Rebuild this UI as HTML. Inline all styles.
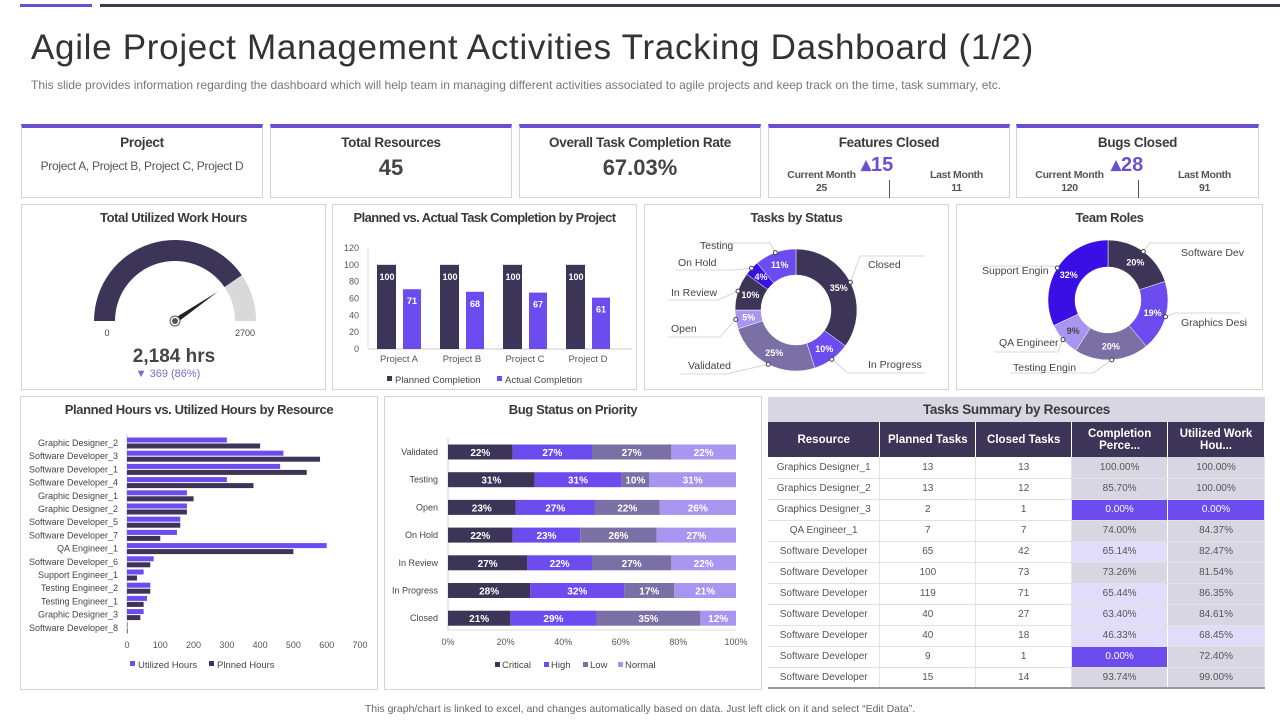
<!DOCTYPE html>
<html><head><meta charset="utf-8">
<style>
*{box-sizing:border-box;margin:0;padding:0}
body{width:1280px;height:720px;background:#fff;font-family:"Liberation Sans",sans-serif;color:#333;position:relative;overflow:hidden}
.abs{position:absolute}
.card{position:absolute;border:1px solid #d4d4d4;border-top:4px solid #6b4fd0;background:#fff;text-align:center}
.card h3{font-size:13.5px;font-weight:bold;color:#3a3a3a;margin-top:7px;letter-spacing:-0.3px}
.panel{position:absolute;border:1px solid #d4d4d4;background:#fff}
.ptitle{position:absolute;left:0;right:0;text-align:center;font-size:13px;font-weight:bold;color:#3a3a3a;top:5px;white-space:nowrap;letter-spacing:-0.4px}
table{border-collapse:collapse;font-size:10px;color:#555}
td{height:21px;text-align:center;border-bottom:1px solid #e2e2e2;border-right:1px solid #e2e2e2}
th{background:#3d3558;color:#fff;font-size:11.5px;height:35px;border-right:1px solid #fff}
</style></head><body>
<div class="abs" style="left:20px;top:4px;width:72px;height:3px;background:#6b4fd0"></div>
<div class="abs" style="left:100px;top:4px;width:1180px;height:3px;background:#3d3a4f"></div>
<div class="abs" style="left:31px;top:28px;font-size:35px;color:#333;white-space:nowrap;letter-spacing:0.7px">Agile Project Management Activities Tracking Dashboard (1/2)</div>
<div class="abs" style="left:31px;top:78px;font-size:12px;color:#777;white-space:nowrap">This slide provides information regarding the dashboard which will help team in managing different activities associated to agile projects and keep track on the time, task summary, etc.</div>

<div class="card" style="left:21px;top:124px;width:242px;height:74px"><h3>Project</h3><div style="font-size:12px;color:#555;margin-top:9px;letter-spacing:-0.3px">Project A, Project B, Project C, Project D</div></div>
<div class="card" style="left:270px;top:124px;width:242px;height:74px"><h3>Total Resources</h3><div style="font-size:22px;font-weight:bold;color:#444;margin-top:5px">45</div></div>
<div class="card" style="left:519px;top:124px;width:242px;height:74px"><h3>Overall Task Completion Rate</h3><div style="font-size:22px;font-weight:bold;color:#444;margin-top:5px">67.03%</div></div>
<div class="card" style="left:768px;top:124px;width:242px;height:74px"><h3>Features Closed</h3>
<div class="abs" style="left:92px;top:24px;font-size:20px;color:#6b4fd0;font-weight:bold">▴15</div>
<div class="abs" style="left:10px;top:41px;font-size:10.5px;font-weight:bold;color:#555;width:85px;line-height:13px;letter-spacing:-0.3px">Current Month<br>25</div>
<div class="abs" style="left:120px;top:52px;width:1px;height:18px;background:#555"></div>
<div class="abs" style="left:145px;top:41px;font-size:10.5px;font-weight:bold;color:#555;width:85px;line-height:13px;letter-spacing:-0.3px">Last Month<br>11</div></div>
<div class="card" style="left:1016px;top:124px;width:243px;height:74px"><h3>Bugs Closed</h3>
<div class="abs" style="left:94px;top:24px;font-size:20px;color:#6b4fd0;font-weight:bold">▴28</div>
<div class="abs" style="left:10px;top:41px;font-size:10.5px;font-weight:bold;color:#555;width:85px;line-height:13px;letter-spacing:-0.3px">Current Month<br>120</div>
<div class="abs" style="left:121px;top:52px;width:1px;height:18px;background:#555"></div>
<div class="abs" style="left:145px;top:41px;font-size:10.5px;font-weight:bold;color:#555;width:85px;line-height:13px;letter-spacing:-0.3px">Last Month<br>91</div></div>

<div class="panel" style="left:21px;top:204px;width:305px;height:186px"><div class="ptitle">Total Utilized Work Hours</div></div>
<div class="panel" style="left:332px;top:204px;width:305px;height:186px"><div class="ptitle" style="letter-spacing:-0.6px">Planned vs. Actual Task Completion by Project</div></div>
<div class="panel" style="left:644px;top:204px;width:305px;height:186px"><div class="ptitle">Tasks by Status</div></div>
<div class="panel" style="left:956px;top:204px;width:307px;height:186px"><div class="ptitle">Team Roles</div></div>
<div class="panel" style="left:20px;top:396px;width:358px;height:294px"><div class="ptitle">Planned Hours vs. Utilized Hours by Resource</div></div>
<div class="panel" style="left:384px;top:396px;width:378px;height:294px"><div class="ptitle">Bug Status on Priority</div></div>

<div class="abs" style="left:768px;top:397px;width:497px">
<div style="background:#d9d6e3;height:25px;text-align:center;font-size:13.5px;font-weight:bold;color:#3a3a3a;line-height:25px;letter-spacing:-0.3px">Tasks Summary by Resources</div>
<table id="tbl" style="width:497px;border-bottom:2px solid #999">
<thead><tr><th style="width:112px">Resource</th><th style="width:96px">Planned Tasks</th><th style="width:96px">Closed Tasks</th><th style="width:96px">Completion Perce...</th><th style="width:97px">Utilized Work Hou...</th></tr></thead>
<tbody id="tb"></tbody></table></div>

<div class="abs" style="left:0;width:1280px;top:703px;text-align:center;font-size:10.5px;color:#666">This graph/chart is linked to excel, and changes automatically based on data. Just left click on it and select “Edit Data”.</div>

<svg id="sv" width="1280" height="720" style="position:absolute;left:0;top:0" font-family="Liberation Sans, sans-serif"></svg>

<script>
// ---- data ----
const gaugeValue = 2184;
const gaugeMax = 2700;
const projects = ["Project A","Project B","Project C","Project D"];
const plannedCompletion = [100,100,100,100];
const actualCompletion = [71,68,67,61];
const colTicks = [0,20,40,60,80,100,120];
const statusLabels = ["Closed","In Progress","Validated","Open","In Review","On Hold","Testing"];
const statusValues = [35,10,25,5,10,4,11];
const roleLabels = ["Software Dev","Graphics Desi","Testing Engin","QA Engineer","Support Engin"];
const roleValues = [20,19,20,9,32];
const resources = ["Graphic Designer_2","Software Developer_3","Software Developer_1","Software Developer_4","Graphic Designer_1","Graphic Designer_2","Software Developer_5","Software Developer_7","QA Engineer_1","Software Developer_6","Support Engineer_1","Testing Engineer_2","Testing Engineer_1","Graphic Designer_3","Software Developer_8"];
const utilizedHours = [300,470,460,300,180,180,160,150,600,80,50,70,60,50,2];
const plannedHours = [400,580,540,380,200,180,160,100,500,70,30,70,50,40,2];
const hourTicks = [0,100,200,300,400,500,600,700];
const bugStatuses = ["Validated","Testing","Open","On Hold","In Review","In Progress","Closed"];
const bugCritical = [22,31,23,22,27,28,21];
const bugHigh = [27,31,27,23,22,32,29];
const bugLow = [27,10,22,26,27,17,35];
const bugNormal = [22,31,26,27,22,21,12];
const pctTicks = [0,20,40,60,80,100];
const tblResource = ["Graphics Designer_1","Graphics Designer_2","Graphics Designer_3","QA Engineer_1","Software Developer","Software Developer","Software Developer","Software Developer","Software Developer","Software Developer","Software Developer"];
const tblPlanned = [13,13,2,7,65,100,119,40,40,9,15];
const tblClosed = [13,12,1,7,42,73,71,27,18,1,14];
const tblCompletion = [100,85.70,0,74,65.14,73.26,65.44,63.40,46.33,0,93.74];
const tblUtilized = [100,100,0,84.37,82.47,81.54,86.35,84.61,68.45,72.40,99.00];

const DARK="#3d3558",PUR="#6c4bef",GRY="#7b70a6",LIT="#a795f0",BLU="#3a0fe6";
const NS="http://www.w3.org/2000/svg";
const sv=document.getElementById('sv');
function mk(tag,at,txt){const e=document.createElementNS(NS,tag);for(const k in at)e.setAttribute(k,at[k]);if(txt!==undefined)e.textContent=txt;sv.appendChild(e);return e;}
function tx(x,y,s,size,fill,anchor,bold){return mk('text',{x:x,y:y,'font-size':size,fill:fill,'text-anchor':anchor||'middle','font-weight':bold?'bold':'normal'},s);}

// ---- gauge ----
(function(){
 const cx=175,cy=321,R=81,r=60;
 function arcPath(a0,a1){const p=(a,rr)=>[cx+rr*Math.cos(a),cy-rr*Math.sin(a)];
  const [x0,y0]=p(a0,R),[x1,y1]=p(a1,R),[x2,y2]=p(a1,r),[x3,y3]=p(a0,r);
  return `M${x0},${y0} A${R},${R} 0 0 1 ${x1},${y1} L${x2},${y2} A${r},${r} 0 0 0 ${x3},${y3}Z`;}
 const av=Math.PI*(1-gaugeValue/gaugeMax);
 let e=mk('path',{d:arcPath(Math.PI,av),fill:DARK});
 
 
 e=mk('path',{d:arcPath(av,0),fill:"#d9d9d9"});
 
 
 const nx=cx+52*Math.cos(av),ny=cy-52*Math.sin(av);
 const px=-Math.sin(av)*2.5,py=-Math.cos(av)*2.5;
 e=mk('polygon',{points:`${cx+px},${cy+py} ${nx},${ny} ${cx-px},${cy-py}`,fill:"#222"});
 
 
 mk('circle',{cx:cx,cy:cy,r:5,fill:"#fff",stroke:"#555","stroke-width":1});
 mk('circle',{cx:cx,cy:cy,r:3,fill:"#555"});
 tx(107,336,"0",9,"#444");tx(245,336,String(gaugeMax),9,"#444");
 e=tx(174,362,gaugeValue.toLocaleString('en-US')+" hrs",19,"#444","middle",true);
 
 
 tx(168,377,"▼ "+(gaugeMax-gaugeValue-147)+" (86%)",11,"#7b68d6");
})();

// ---- column chart ----
(function(){
 const x0=368,y0=349,k=(349-248)/120,step=63,first=377;
 const Y=v=>y0-v*k;
 colTicks.forEach(t=>tx(359,Y(t)+3,String(t),9,"#555","end"));
 mk('line',{x1:x0,y1:y0,x2:632,y2:y0,stroke:"#ccc"});
 mk('line',{x1:x0,y1:248,x2:x0,y2:y0,stroke:"#ddd"});
 projects.forEach((p,i)=>{
  const bx=first+i*step;
  let e=mk('rect',{x:bx,y:Y(plannedCompletion[i]),width:19,height:plannedCompletion[i]*k,fill:DARK});
  
  
  e=mk('rect',{x:bx+26,y:Y(actualCompletion[i]),width:18,height:actualCompletion[i]*k,fill:PUR});
  
  
  tx(bx+10,Y(plannedCompletion[i])+15,String(plannedCompletion[i]),9,"#fff","middle",true);
  tx(bx+35,Y(actualCompletion[i])+15,String(actualCompletion[i]),9,"#fff","middle",true);
  tx(bx+22,362,p,9.5,"#555");
 });
 mk('rect',{x:387,y:376,width:5,height:5,fill:DARK});tx(395,383,"Planned Completion",9.5,"#444","start");
 mk('rect',{x:497,y:376,width:5,height:5,fill:PUR});tx(505,383,"Actual Completion",9.5,"#444","start");
})();

// ---- donuts ----
function donut(cx,cy,R,r,vals,cols,names,labelPos){
 const tot=vals.reduce((a,b)=>a+b,0);let a=-Math.PI/2;
 vals.forEach((v,i)=>{
  const a1=a+2*Math.PI*v/tot;const lg=(a1-a)>Math.PI?1:0;
  const P=(ang,rr)=>[cx+rr*Math.cos(ang),cy+rr*Math.sin(ang)];
  const [x0,y0]=P(a,R),[x1,y1]=P(a1,R),[x2,y2]=P(a1,r),[x3,y3]=P(a,r);
  const e=mk('path',{d:`M${x0},${y0}A${R},${R} 0 ${lg} 1 ${x1},${y1}L${x2},${y2}A${r},${r} 0 ${lg} 0 ${x3},${y3}Z`,fill:cols[i],stroke:"#fff","stroke-width":0.5});
  
  
  const am=(a+a1)/2,[lx,ly]=P(am,(R+r)/2);
  tx(lx,ly+3,v+"%",9,cols[i]===LIT&&vals.length===5?"#444":"#fff","middle",true);
  const [dx,dy]=P(am,R);const L=labelPos[i];
  mk('polyline',{points:`${dx},${dy} ${L[2]},${L[3]} ${L[4]},${L[3]}`,fill:"none",stroke:"#ccc","stroke-width":0.8});
  mk('circle',{cx:dx,cy:dy,r:2,fill:"#fff",stroke:"#444","stroke-width":1});
  tx(L[0],L[1],names[i],10.5,"#444","start");
  a=a1;
 });
}
donut(796,310,61,35,statusValues,[DARK,PUR,GRY,LIT,DARK,BLU,PUR],statusLabels,
 [[868,268,860,256,925],[868,368,848,373,925],[688,369,726,374,680],[671,332,720,337,668],[671,296,718,300,668],[678,266,734,270,676],[700,249,770,243,698]]);
donut(1108,300,60,33,roleValues,[DARK,PUR,GRY,LIT,BLU],roleLabels,
 [[1181,256,1150,243,1240],[1181,326,1175,313,1240],[1013,371,1093,373,1010],[999,346,1058,352,994],[982,274,1052,266,980]]);

// ---- horizontal bars ----
(function(){
 const x0=127,k=(360-127)/700,yF=443,step=13.2;
 const X=v=>x0+v*k;
 mk('line',{x1:x0,y1:434,x2:x0,y2:634,stroke:"#ccc"});
 hourTicks.forEach(t=>tx(X(t),648,String(t),9,"#555"));
 resources.forEach((n,i)=>{
  const cy=yF+i*step;
  tx(118,cy+3,n,9,"#444","end");
  let e=mk('rect',{x:x0,y:cy-5.5,width:utilizedHours[i]*k,height:5,fill:PUR});
  
  
  e=mk('rect',{x:x0,y:cy+0.5,width:plannedHours[i]*k,height:5,fill:DARK});
  
  
 });
 mk('rect',{x:130,y:661,width:5,height:5,fill:PUR});tx(138,668,"Utilized Hours",9.5,"#444","start");
 mk('rect',{x:209,y:661,width:5,height:5,fill:DARK});tx(217,668,"Plnned Hours",9.5,"#444","start");
})();

// ---- stacked bug chart ----
(function(){
 const x0=448,W=288,yF=452,step=27.7;
 const X=p=>x0+p*W/100;
 mk('line',{x1:x0,y1:438,x2:x0,y2:630,stroke:"#ccc"});
 mk('line',{x1:x0,y1:630,x2:736,y2:630,stroke:"#ddd"});
 pctTicks.forEach(t=>tx(X(t),645,t+"%",9,"#555"));
 const series=[bugCritical,bugHigh,bugLow,bugNormal],cols=[DARK,PUR,GRY,LIT],sn=["critical","high","low","normal"];
 bugStatuses.forEach((s,i)=>{
  const cy=yF+i*step;tx(438,cy+3,s,9,"#444","end");
  const tot=series.reduce((a,sr)=>a+sr[i],0);let acc=0;
  series.forEach((sr,j)=>{
   const p=sr[i]/tot*100;
   const e=mk('rect',{x:X(acc),y:cy-7.5,width:p*W/100,height:15,fill:cols[j]});
   
   
   tx(X(acc+p/2),cy+4,sr[i]+"%",10,"#fff","middle",true);
   acc+=p;
  });
 });
 const lg=[["Critical",495],["High",544],["Low",583],["Normal",618]];
 lg.forEach((l,j)=>{mk('rect',{x:l[1],y:662,width:5,height:5,fill:cols[j]});tx(l[1]+7,668,l[0],9.5,"#444","start");});
})();

// ---- table ----
(function(){
 const tb=document.getElementById('tb');
 const fmt=v=>v.toFixed(2)+"%";
 const bg=v=>v===0?PUR:(v<70?"#e0dcfa":"#d9d6e3");
 tblResource.forEach((n,i)=>{
  const tr=document.createElement('tr');
  
  
  const c1=tblCompletion[i],c2=tblUtilized[i];
  tr.innerHTML=`<td>${n}</td><td>${tblPlanned[i]}</td><td>${tblClosed[i]}</td><td style="background:${bg(c1)};color:${c1===0?'#fff':'#555'};border-right:1px solid #fff">${fmt(c1)}</td><td style="background:${bg(c2)};color:${c2===0?'#fff':'#555'}">${fmt(c2)}</td>`;
  tb.appendChild(tr);
 });
})();
</script>
</body></html>
